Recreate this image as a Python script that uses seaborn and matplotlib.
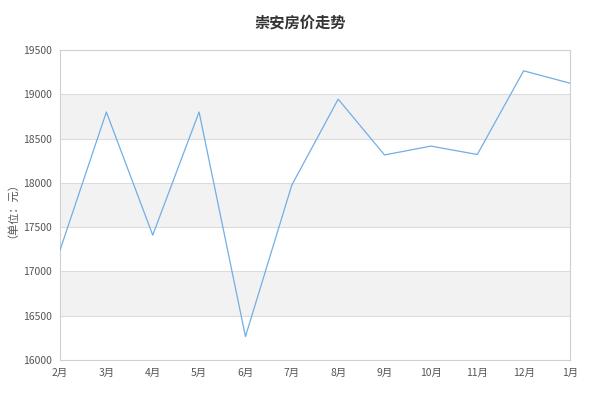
import matplotlib
matplotlib.use("Agg")
import matplotlib.pyplot as plt
import seaborn as sns
import pandas as pd

# values
months = ["2月", "3月", "4月", "5月", "6月", "7月", "8月", "9月", "10月", "11月", "12月", "1月"]
prices = [17240, 18800, 17410, 18800, 16265, 17975, 18945, 18315, 18415, 18320, 19265, 19125]
y_ticks = [16000, 16500, 17000, 17500, 18000, 18500, 19000, 19500]

sns.set_theme(style="white")
plt.rcParams['font.family'] = ['Noto Sans CJK SC', 'DejaVu Sans']

df = pd.DataFrame({"month": months, "price": prices, "x": range(len(months))})

fig = plt.figure(figsize=(6, 4), dpi=100)
ax = fig.add_axes([0.1, 0.1, 0.85, 0.775])

# alternating bands
for i in range(len(y_ticks) - 1):
    if i % 2 == 0:
        continue
    ax.axhspan(y_ticks[i], y_ticks[i + 1], color="#f2f2f2", zorder=0, lw=0)
for t in y_ticks[1:-1]:
    ax.axhline(t, color="#dcdcdc", lw=0.8, zorder=1)

sns.lineplot(data=df, x="x", y="price", ax=ax, color="#72aee6", lw=0.9, zorder=3)

ax.set_xlim(0, len(months) - 1)
ax.set_ylim(y_ticks[0], y_ticks[-1])
ax.set_xticks(range(len(months)))
ax.set_xticklabels(months)
ax.set_yticks(y_ticks)
ax.tick_params(axis="both", labelsize=7.5, colors="#555555", length=0, pad=6)
ax.set_xlabel("")
ax.set_ylabel("（单位：元）", fontsize=8, color="#555555", labelpad=8)

for s in ax.spines.values():
    s.set_color("#d0d0d0")
    s.set_linewidth(0.8)

fig.suptitle("崇安房价走势", y=0.965, fontsize=11, fontweight="bold", color="#333333")

fig.savefig("out.png", dpi=100)
